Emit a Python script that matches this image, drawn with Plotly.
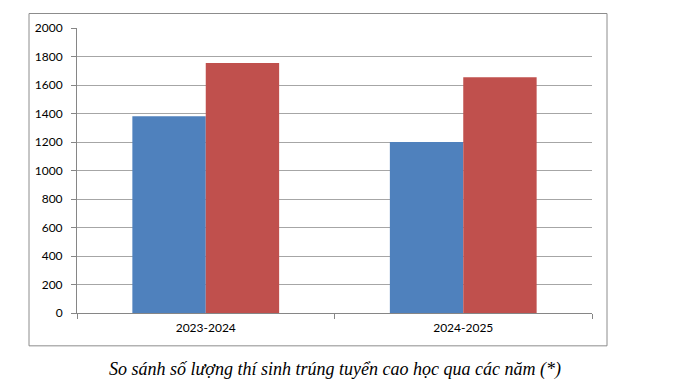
import plotly.graph_objects as go

categories = ["2023-2024", "2024-2025"]
series_a = [1380, 1200]
series_b = [1755, 1655]
y_ticks = [0, 200, 400, 600, 800, 1000, 1200, 1400, 1600, 1800, 2000]
caption = "So sánh số lượng thí sinh trúng tuyển cao học qua các năm (*)"

OFF = 8  # default page body margin
W, H = 700 - OFF, 388 - OFF
L, R, T, B = 77 - OFF, 592 - OFF, 23.7 - OFF, 312.7 - OFF
pw, ph = R - L, B - T

def px(x):
    return (x - OFF - L) / pw

def py(y):
    return (B - (y - OFF)) / ph

fig = go.Figure()
fig.add_trace(go.Bar(x=categories, y=series_a, marker=dict(color="#4F81BD", line=dict(width=0)), showlegend=False))
fig.add_trace(go.Bar(x=categories, y=series_b, marker=dict(color="#C0504D", line=dict(width=0)), showlegend=False))

fig.update_layout(
    width=W, height=H,
    margin=dict(l=L, r=W - R, t=T, b=H - B, pad=0),
    paper_bgcolor="white", plot_bgcolor="white",
    barmode="group", bargap=0.43, bargroupgap=0,
    font=dict(family="Lato, Open Sans, sans-serif", size=12, color="#000000"),
)
fig.update_xaxes(
    type="category", tickson="boundaries", ticks="outside", ticklen=5,
    tickcolor="#868686", showline=True, linecolor="#868686", linewidth=1,
    showgrid=False, tickfont=dict(size=12), ticklabelstandoff=4,
)
fig.update_yaxes(
    range=[0, 2000], tickvals=y_ticks, ticks="outside", ticklen=5,
    tickcolor="#868686", showline=True, linecolor="#868686", linewidth=1,
    showgrid=True, gridcolor="#A6A6A6", gridwidth=1, zeroline=False,
    tickfont=dict(size=12), ticklabelstandoff=6,
)
fig.add_shape(type="rect", xref="paper", yref="paper",
              x0=px(29), x1=px(607), y0=py(346), y1=py(9),
              line=dict(color="#8C8C8C", width=1), fillcolor="rgba(0,0,0,0)", layer="below")
fig.add_annotation(text=caption, xref="paper", yref="paper", x=px(335), y=py(370),
                   showarrow=False, xanchor="center", yanchor="middle",
                   font=dict(family="Liberation Serif, Times New Roman, serif", size=18, color="#000000", style="italic"))

fig.write_html("out.html")
